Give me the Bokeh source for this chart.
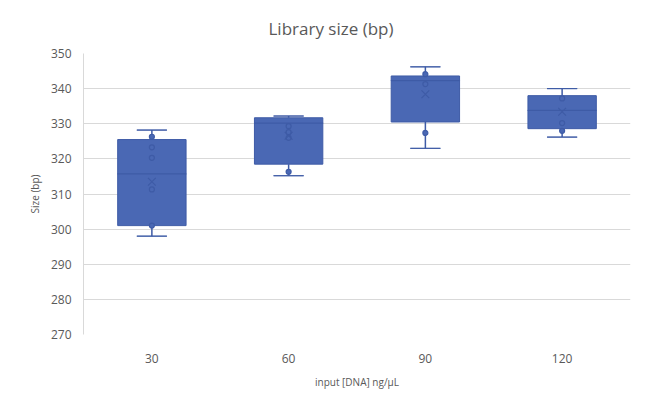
from bokeh.plotting import figure
from bokeh.models import FactorRange, Range1d, FixedTicker, ColumnDataSource
from bokeh.embed import file_html
from bokeh.resources import INLINE

categories = ["30", "60", "90", "120"]
q1 = [301.0, 318.5, 330.5, 328.6]
median = [315.7, 330.2, 342.3, 333.8]
q3 = [325.5, 331.7, 343.6, 338.0]
whisker_low = [298.0, 315.2, 323.0, 326.2]
whisker_high = [328.2, 332.2, 346.2, 340.0]
means = [313.5, 326.6, 338.4, 333.4]
point_cats = ["30", "30", "30", "30", "30",
              "60", "60", "60", "60",
              "90", "90", "90",
              "120", "120", "120"]
point_vals = [326.3, 323.3, 320.3, 311.3, 301.0,
              316.3, 329.3, 327.6, 326.0,
              344.1, 341.3, 327.4,
              337.2, 330.2, 328.0]
y_ticks = [270, 280, 290, 300, 310, 320, 330, 340, 350]

FILL = "#4A68B4"
EDGE = "#3E5BA6"
TXT = "#595959"
FONT = "Open Sans"

src = ColumnDataSource(dict(cat=categories, q1=q1, med=median, q3=q3,
                            lo=whisker_low, hi=whisker_high, mean=means))
psrc = ColumnDataSource(dict(cat=point_cats, val=point_vals))

p = figure(width=648, height=395, x_range=FactorRange(*categories, range_padding=0),
           y_range=Range1d(270, 350), output_backend="svg", toolbar_location=None,
           min_border_left=83, min_border_right=18, min_border_top=52, min_border_bottom=61)

p.title.text = "Library size (bp)"
p.title.align = "left"
p.title.offset = 185
p.title.text_font = FONT
p.title.text_font_size = "17px"
p.title.text_font_style = "normal"
p.title.text_color = TXT
if "standoff" in p.title.properties():
    p.title.standoff = 28

# whiskers
p.segment(x0="cat", y0="hi", x1="cat", y1="q3", source=src, line_color=EDGE, line_width=1.5)
p.segment(x0="cat", y0="lo", x1="cat", y1="q1", source=src, line_color=EDGE, line_width=1.5)
p.rect(x="cat", y="hi", width=0.22, height=0.01, source=src, fill_color=EDGE, line_color=EDGE, line_width=1)
p.rect(x="cat", y="lo", width=0.22, height=0.01, source=src, fill_color=EDGE, line_color=EDGE, line_width=1)
# boxes
p.vbar(x="cat", bottom="q1", top="q3", width=0.5, source=src, fill_color=FILL, line_color=EDGE, line_width=1)
p.rect(x="cat", y="med", width=0.5, height=0.01, source=src, fill_color=EDGE, line_color=EDGE, line_width=1.2)
# points
p.scatter(x="cat", y="val", source=psrc, marker="circle", size=5, fill_color=FILL, line_color=EDGE, line_width=1.2)
# means
p.scatter(x="cat", y="mean", source=src, marker="x", size=11, line_color=EDGE, line_width=1.2)

p.xgrid.grid_line_color = None
p.ygrid.grid_line_color = "#D9D9D9"
p.ygrid.ticker = FixedTicker(ticks=y_ticks)
p.yaxis.ticker = FixedTicker(ticks=y_ticks)
p.outline_line_color = None

for ax in (p.xaxis[0], p.yaxis[0]):
    ax.major_tick_line_color = None
    ax.minor_tick_line_color = None
    ax.axis_line_color = "#D9D9D9"
    ax.major_label_text_font = FONT
    ax.major_label_text_font_size = "12px"
    ax.major_label_text_color = TXT
    ax.axis_label_text_font = FONT
    ax.axis_label_text_font_size = "10px"
    ax.axis_label_text_font_style = "normal"
    ax.axis_label_text_color = TXT
p.xaxis.axis_line_color = None
p.xaxis.axis_label = "input [DNA] ng/\u00b5L"
p.yaxis.axis_label = "Size (bp)"
p.xaxis.major_label_standoff = 13
p.yaxis.major_label_standoff = 6
p.xaxis.axis_label_standoff = 9
p.yaxis.axis_label_standoff = 6

open("out.html", "w").write(file_html(p, INLINE))
